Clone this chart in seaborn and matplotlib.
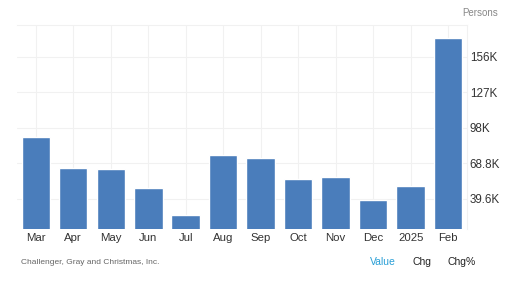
import matplotlib
matplotlib.use("Agg")
import matplotlib.pyplot as plt
import seaborn as sns
import pandas as pd

months = ["Mar", "Apr", "May", "Jun", "Jul", "Aug", "Sep", "Oct", "Nov", "Dec", "2025", "Feb"]
job_cuts = [90309, 64789, 63816, 48786, 25885, 75891, 72821, 55597, 57727, 38792, 49795, 172017]
tick_values = [39600, 68800, 98000, 127200, 156400]
tick_labels = ["39.6K", "68.8K", "98K", "127K", "156K"]

sns.set_theme(style="white")
plt.rcParams["font.family"] = ["Liberation Sans", "DejaVu Sans"]

df = pd.DataFrame({"month": months, "value": job_cuts})

fig = plt.figure(figsize=(5.07, 2.82), dpi=100)
ax = fig.add_axes([17 / 507, 1 - 228.5 / 282, 450 / 507, 203.5 / 282])

grid_c = "#f1f1f1"
for i in range(len(months)):
    ax.axvline(i, color=grid_c, lw=0.8, zorder=0)
for t in tick_values:
    ax.axhline(t, color=grid_c, lw=0.8, zorder=0)

sns.barplot(data=df, x="month", y="value", color="#4a7dbb", saturation=1,
            width=0.76, ax=ax, zorder=2)

ax.set_xlim(-0.5, len(months) - 0.5)
ax.set_ylim(15150, 182500)
ax.set_yticks(tick_values)
ax.set_yticklabels(tick_labels)
ax.yaxis.tick_right()
ax.tick_params(axis="y", length=0, pad=2, labelsize=8.4, labelcolor="#333333")
ax.tick_params(axis="x", length=0, pad=3, labelsize=8.2, labelcolor="#333333")
ax.set_xlabel("")
ax.set_ylabel("")
for side in ["left", "bottom"]:
    ax.spines[side].set_visible(False)
for side in ["top", "right"]:
    ax.spines[side].set_color(grid_c)
    ax.spines[side].set_linewidth(0.8)

fig.text(480 / 507, 1 - 13 / 282, "Persons", fontsize=7, color="#888888", ha="center", va="center")
fig.text(21 / 507, 1 - 262 / 282, "Challenger, Gray and Christmas, Inc.", fontsize=6, color="#666666",
         ha="left", va="center")
fig.text(383 / 507, 1 - 262 / 282, "Value", fontsize=7.5, color="#2a9fd6", ha="center", va="center")
fig.text(422 / 507, 1 - 262 / 282, "Chg", fontsize=7.5, color="#222222", ha="center", va="center")
fig.text(462 / 507, 1 - 262 / 282, "Chg%", fontsize=7.5, color="#222222", ha="center", va="center")

fig.savefig("out.png", dpi=100)
